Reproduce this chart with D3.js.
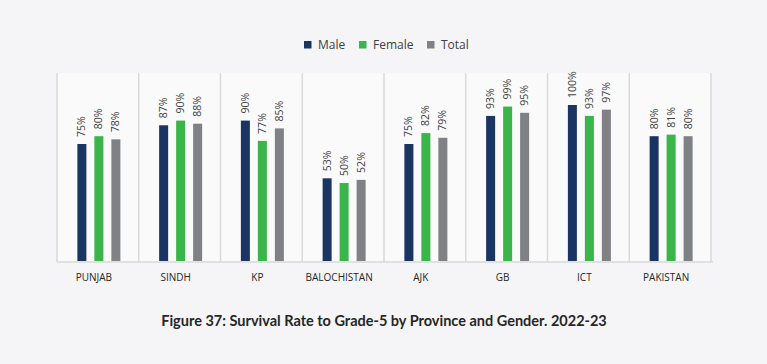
<!DOCTYPE html>
<html><head><meta charset="utf-8">
<script src="https://cdn.jsdelivr.net/npm/d3@7"></script>
<style>
html,body{margin:0;padding:0;background:#f5f5f7;}
svg{display:block;}
</style></head>
<body>
<svg id="chart" width="767" height="364"></svg>
<script>
const categories = ["PUNJAB","SINDH","KP","BALOCHISTAN","AJK","GB","ICT","PAKISTAN"];
const maleValues = [75,87,90,53,75,93,100,80];
const femaleValues = [80,90,77,50,82,99,93,81];
const totalValues = [78,88,85,52,79,95,97,80];
const seriesNames = ["Male","Female","Total"];
const seriesColors = ["#1b3563","#3ab54a","#808184"];
const title = "Figure 37: Survival Rate to Grade-5 by Province and Gender. 2022-23";

const series = [maleValues, femaleValues, totalValues];
const svg = d3.select("#chart");
const W = 767, H = 364;
svg.append("rect").attr("width",W).attr("height",H).attr("fill","#f5f5f7");

const x0 = d3.scaleBand().domain(categories).range([57,711]).padding(0);
const groupW = 43;
const x1 = d3.scaleBand().domain(seriesNames).range([0,groupW]).paddingInner(0.47).paddingOuter(0);
const y = d3.scaleLinear().domain([0,100]).range([261,105]);
const plotTop = 73;

// plot area
svg.append("rect").attr("x",57).attr("y",plotTop).attr("width",654).attr("height",261-plotTop)
  .attr("fill","#fafafb");

// separators
const seps = categories.map(c=>x0(c)).concat([x0.range()[1]]);
svg.selectAll("line.sep").data(seps).enter().append("line")
  .attr("x1",d=>d).attr("x2",d=>d).attr("y1",plotTop).attr("y2",262)
  .attr("stroke","#d9d9d9").attr("stroke-width",1.5);

// baseline
svg.append("line").attr("x1",57).attr("x2",713).attr("y1",262).attr("y2",262)
  .attr("stroke","#d9d9d9").attr("stroke-width",1.5);

const groups = svg.selectAll("g.cat").data(categories).enter().append("g")
  .attr("transform",c=>`translate(${x0(c)+ (x0.bandwidth()-groupW)/2 + 1},0)`);

seriesNames.forEach((s,si)=>{
  groups.append("rect")
    .attr("x",x1(s)).attr("width",x1.bandwidth())
    .attr("y",(c,i)=>y(series[si][i])).attr("height",(c,i)=>y(0)-y(series[si][i]))
    .attr("fill",seriesColors[si]);
  groups.append("text")
    .attr("transform",(c,i)=>`translate(${x1(s)+x1.bandwidth()/2+3.5},${y(series[si][i])-7}) rotate(-90)`)
    .attr("font-family","'Open Sans', sans-serif").attr("font-size",10.5)
    .attr("fill","#404040")
    .text((c,i)=>series[si][i]+"%");
});

// category labels
svg.selectAll("text.cat").data(categories).enter().append("text")
  .attr("x",c=>x0(c)+x0.bandwidth()/2-4).attr("y",281)
  .attr("text-anchor","middle")
  .attr("font-family","'Open Sans', sans-serif").attr("font-size",10)
  .attr("fill","#262626")
  .text(c=>c);

// legend
const legendX = [304,359,427];
const lg = svg.selectAll("g.lg").data(seriesNames).enter().append("g")
  .attr("transform",(d,i)=>`translate(${legendX[i]},41)`);
lg.append("rect").attr("width",7.5).attr("height",7.5).attr("fill",(d,i)=>seriesColors[i]);
lg.append("text").attr("x",14).attr("y",8)
  .attr("font-family","'Open Sans', sans-serif").attr("font-size",12)
  .attr("fill","#404040").text(d=>d);

// title
svg.append("text").attr("x",384).attr("y",326).attr("text-anchor","middle")
  .attr("font-family","Lato, sans-serif").attr("font-weight","bold").attr("font-size",14.5)
  .attr("fill","#262626").text(title);
</script>
</body></html>
